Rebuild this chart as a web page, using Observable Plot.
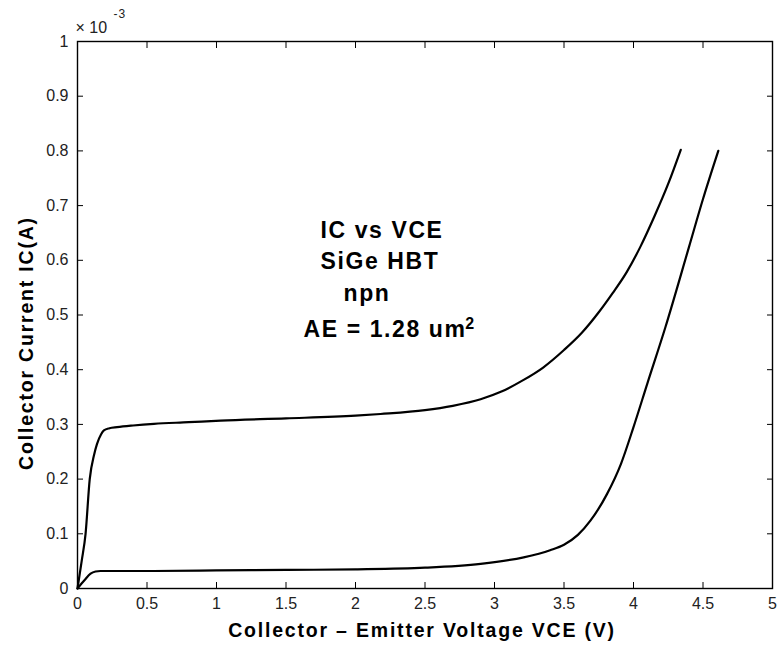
<!DOCTYPE html>
<html>
<head>
<meta charset="utf-8">
<script src="https://cdn.jsdelivr.net/npm/d3@7"></script>
<script src="https://cdn.jsdelivr.net/npm/@observablehq/plot@0.6"></script>
<style>
  html, body { margin: 0; padding: 0; background: #fff; }
  #chart { width: 777px; height: 647px; }
</style>
</head>
<body>
<div id="chart"></div>
<script>
// Upper curve (higher base drive)
const vceHigh = [0, 0.03, 0.058, 0.088, 0.12, 0.14, 0.17, 0.19, 0.23, 0.285, 0.4, 0.55, 0.8, 1.03, 1.5, 2.0, 2.18, 2.5, 2.7, 2.9, 3.05, 3.2, 3.35, 3.5, 3.63, 3.75, 3.85, 3.95, 4.05, 4.15, 4.25, 4.34];
const icHigh  = [0, 0.05, 0.10, 0.20, 0.245, 0.264, 0.282, 0.289, 0.293, 0.295, 0.298, 0.301, 0.304, 0.307, 0.311, 0.316, 0.319, 0.326, 0.334, 0.346, 0.360, 0.380, 0.404, 0.436, 0.468, 0.505, 0.540, 0.578, 0.625, 0.680, 0.740, 0.802];
// Lower curve (lower base drive)
const vceLow = [0, 0.05, 0.094, 0.13, 0.165, 0.25, 0.5, 1.0, 1.5, 2.0, 2.5, 2.9, 3.21, 3.4, 3.5, 3.6, 3.69, 3.81, 3.91, 4.0, 4.1, 4.23, 4.4, 4.5, 4.61];
const icLow  = [0, 0.015, 0.027, 0.031, 0.032, 0.032, 0.032, 0.033, 0.034, 0.035, 0.038, 0.045, 0.057, 0.070, 0.080, 0.098, 0.124, 0.173, 0.228, 0.295, 0.375, 0.478, 0.625, 0.712, 0.800];

const xTicks = [0, 0.5, 1, 1.5, 2, 2.5, 3, 3.5, 4, 4.5, 5];
const yTicks = [0, 0.1, 0.2, 0.3, 0.4, 0.5, 0.6, 0.7, 0.8, 0.9, 1];
const xLabel = "Collector \u2013 Emitter Voltage VCE (V)";
const yLabel = "Collector Current IC(A)";
const scaleBase = "\u00d7 10";
const scaleExp = "-3";

// In-plot annotation (data coordinates: V, mA)
const noteText = ["IC vs VCE", "SiGe HBT", "npn", "AE = 1.28 um"];
const noteV = [1.748, 1.748, 1.914, 1.626];
const noteI = [0.641, 0.585, 0.526, 0.460];
const supText = ["2"];
const supV = [2.79];
const supI = [0.474];

const curves = [
  ...vceHigh.map((v, k) => ({curve: "high", v, i: icHigh[k]})),
  ...vceLow.map((v, k) => ({curve: "low", v, i: icLow[k]}))
];
const notes = noteText.map((t, k) => ({t, v: noteV[k], i: noteI[k]}));
const sups = supText.map((t, k) => ({t, v: supV[k], i: supI[k]}));
const fmt = d => String(d);

const svg = Plot.plot({
  width: 777,
  height: 647,
  marginLeft: 77,
  marginRight: 5,
  marginTop: 41,
  marginBottom: 59,
  style: {fontFamily: "'Liberation Sans', Arial, Helvetica, sans-serif", background: "#fff", color: "#000", overflow: "visible"},
  x: {domain: [0, 5], label: null},
  y: {domain: [0, 1], label: null},
  marks: [
    Plot.line(curves, {x: "v", y: "i", z: "curve", stroke: "#000", strokeWidth: 2.2, curve: "monotone-x"}),
    Plot.frame({stroke: "#000", strokeWidth: 1.4}),
    Plot.axisX(xTicks, {anchor: "bottom", tickSize: -6, tickFormat: fmt, fontSize: 16, fill: "#222", label: null}),
    Plot.axisX(xTicks, {anchor: "top", tickSize: -6, tickFormat: () => "", label: null}),
    Plot.axisY(yTicks, {anchor: "left", tickSize: -6, tickFormat: fmt, fontSize: 16, fill: "#222", label: null}),
    Plot.axisY(yTicks, {anchor: "right", tickSize: -6, tickFormat: () => "", label: null}),
    Plot.text([xLabel], {frameAnchor: "bottom", textAnchor: "middle", lineAnchor: "bottom", dy: 48, dx: -3, fontSize: 19.5, fontWeight: "bold"}),
    Plot.text([yLabel], {frameAnchor: "left", textAnchor: "middle", rotate: -90, dx: -51, dy: 28, fontSize: 19.5, fontWeight: "bold"}),
    Plot.text(notes, {x: "v", y: "i", text: "t", textAnchor: "start", lineAnchor: "bottom", fontSize: 23, fontWeight: "bold"}),
    Plot.text(sups, {x: "v", y: "i", text: "t", textAnchor: "start", lineAnchor: "bottom", fontSize: 16, fontWeight: "bold"}),
    Plot.text([scaleBase], {frameAnchor: "top-left", textAnchor: "start", lineAnchor: "bottom", dx: -2, dy: -9, fontSize: 16, fill: "#222"}),
    Plot.text([scaleExp], {frameAnchor: "top-left", textAnchor: "start", lineAnchor: "bottom", dx: 36, dy: -24, fontSize: 12, fill: "#222"})
  ]
});

const s = d3.select(svg);
s.selectAll("text").each(function () {
  const el = d3.select(this);
  const t = el.text();
  if (t === xLabel || t === yLabel) el.attr("letter-spacing", "1.8px");
  else if (noteText.includes(t)) el.attr("letter-spacing", "1.6px");
  else if (t === scaleExp) el.attr("letter-spacing", "1px");
});
document.getElementById("chart").appendChild(svg);
</script>
</body>
</html>
